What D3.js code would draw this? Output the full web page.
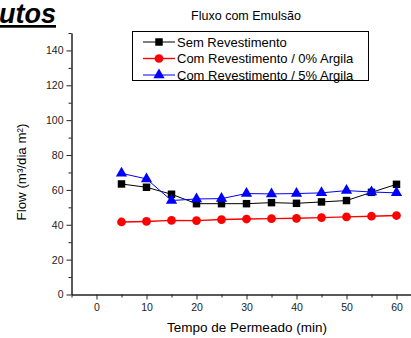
<!DOCTYPE html>
<html>
<head>
<meta charset="utf-8">
<script src="https://cdn.jsdelivr.net/npm/d3@7"></script>
<style>
  body { margin: 0; background: #fff; }
  svg { display: block; font-family: "Liberation Sans", Arial, sans-serif; }
</style>
</head>
<body>
<div id="chart"></div>
<script>
// minutes of permeation
const times = [5, 10, 15, 20, 25, 30, 35, 40, 45, 50, 55, 60];
const semRevestimento = [63.4, 61.5, 57.5, 52.1, 52.1, 52.1, 52.7, 52.3, 53.1, 53.9, 58.6, 63.2];
const argila0 = [41.6, 41.9, 42.5, 42.4, 43.0, 43.3, 43.5, 43.7, 44.1, 44.5, 44.9, 45.3];
const argila5 = [69.5, 66.3, 53.9, 54.8, 55.0, 57.9, 57.7, 57.9, 58.3, 59.6, 58.8, 58.3];
const legendLabels = ["Sem Revestimento", "Com Revestimento / 0% Argila", "Com Revestimento / 5% Argila"];
const xTicks = [0, 10, 20, 30, 40, 50, 60];
const yTicks = [0, 20, 40, 60, 80, 100, 120, 140];

const width = 411, height = 338;
const svg = d3.select("#chart").append("svg")
  .attr("width", width)
  .attr("height", height);

const x = d3.scaleLinear().domain([-5, 65]).range([71.5, 421.5]);
const y = d3.scaleLinear().domain([0, 150]).range([294.5, 33]);

// cut-off heading from the slide behind the chart
svg.append("text")
  .attr("x", -1).attr("y", 23)
  .style("font-size", "27px").style("font-weight", "bold").style("font-style", "italic")
  .style("text-decoration", "underline")
  .text("utos");

svg.append("text")
  .attr("x", 246).attr("y", 20)
  .attr("text-anchor", "middle")
  .style("font-size", "12.5px")
  .text("Fluxo com Emulsão");

// axes
svg.append("g")
  .attr("transform", "translate(0," + y(0) + ")")
  .call(d3.axisBottom(x).tickValues(xTicks).tickSize(5).tickSizeOuter(0).tickPadding(4));
svg.append("g")
  .attr("transform", "translate(0," + y(0) + ")")
  .call(d3.axisBottom(x).tickValues([-5, 5, 15, 25, 35, 45, 55]).tickSize(3).tickSizeOuter(0).tickFormat(""));

svg.append("g")
  .attr("transform", "translate(" + x(-5) + ",0)")
  .call(d3.axisLeft(y).tickValues(yTicks).tickSize(5).tickSizeOuter(0).tickPadding(3));
svg.append("g")
  .attr("transform", "translate(" + x(-5) + ",0)")
  .call(d3.axisLeft(y).tickValues([10, 30, 50, 70, 90, 110, 130, 150]).tickSize(3).tickSizeOuter(0).tickFormat(""));

svg.selectAll(".tick text").style("font-size", "10.5px").attr("fill", "#222");
svg.selectAll(".domain, .tick line").attr("stroke", "#222");

svg.append("text")
  .attr("x", 247).attr("y", 332)
  .attr("text-anchor", "middle")
  .style("font-size", "13.5px")
  .text("Tempo de Permeado (min)");

svg.append("text")
  .attr("transform", "translate(26,172) rotate(-90)")
  .attr("text-anchor", "middle")
  .style("font-size", "13.3px")
  .text("Flow (m³/dia m²)");

// series
const series = [
  { name: legendLabels[0], values: semRevestimento, color: "#000", shape: d3.symbolSquare, size: 56, lw: 1 },
  { name: legendLabels[1], values: argila0, color: "#ff0000", shape: d3.symbolCircle, size: 60, lw: 1.4 },
  { name: legendLabels[2], values: argila5, color: "#0000ff", shape: d3.symbolTriangle, size: 55, lw: 1 }
];

const line = d3.line().x(d => x(d[0])).y(d => y(d[1]));

series.forEach(s => {
  const pts = times.map((t, i) => [t, s.values[i]]);
  svg.append("path")
    .datum(pts)
    .attr("fill", "none")
    .attr("stroke", s.color)
    .attr("stroke-width", s.lw)
    .attr("d", line);
  svg.append("g").selectAll("path")
    .data(pts)
    .enter().append("path")
      .attr("transform", d => "translate(" + x(d[0]) + "," + y(d[1]) + ")")
      .attr("d", d3.symbol().type(s.shape).size(s.size))
      .attr("fill", s.color);
});

// legend
const legend = svg.append("g");
legend.append("rect")
  .attr("x", 132.5).attr("y", 31.5)
  .attr("width", 236).attr("height", 49)
  .attr("fill", "#fff").attr("stroke", "#000");

series.forEach((s, i) => {
  const ly = 42 + i * 16.5;
  legend.append("line")
    .attr("x1", 143).attr("x2", 175)
    .attr("y1", ly).attr("y2", ly)
    .attr("stroke", s.color).attr("stroke-width", s.lw);
  legend.append("path")
    .attr("transform", "translate(159," + ly + ")")
    .attr("d", d3.symbol().type(s.shape).size(s.size))
    .attr("fill", s.color);
  legend.append("text")
    .attr("x", 177).attr("y", ly + 4.5)
    .style("font-size", "13px")
    .text(s.name);
});
</script>
</body>
</html>
